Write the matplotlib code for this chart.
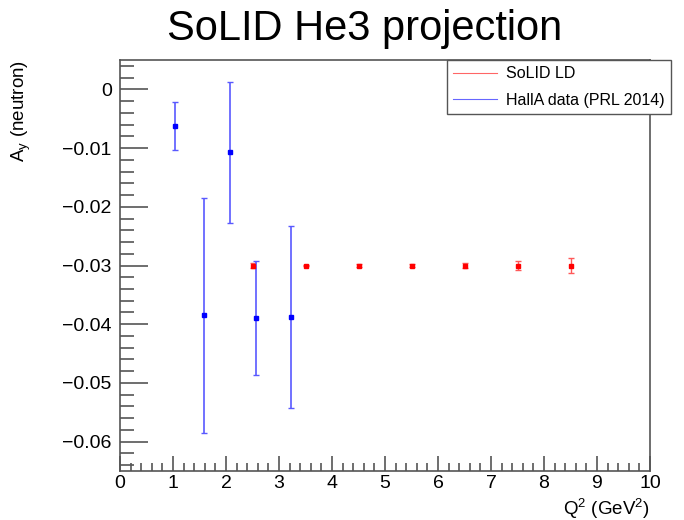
import numpy as np
import matplotlib.pyplot as plt
from matplotlib.ticker import MultipleLocator
from matplotlib.lines import Line2D

plt.rcParams['font.family'] = ['Liberation Sans', 'DejaVu Sans']

# HallA data (PRL 2014)
halla_q2 = [1.04, 1.58, 2.07, 2.56, 3.22]
halla_ay = [-0.0063, -0.0385, -0.0107, -0.0389, -0.0387]
halla_err = [0.0041, 0.0200, 0.0120, 0.0097, 0.0155]

# SoLID LD projection
solid_q2 = [2.5, 3.5, 4.5, 5.5, 6.5, 7.5, 8.5]
solid_ay = [-0.030, -0.030, -0.030, -0.030, -0.030, -0.030, -0.030]
solid_err = [0.0004, 0.0001, 0.0002, 0.0003, 0.0005, 0.0008, 0.0013]

fig = plt.figure(figsize=(6.84, 5.2), dpi=100)
ax = fig.add_axes([120/684, 49/520, 530/684, 411/520])

ax.errorbar(solid_q2, solid_ay, yerr=solid_err, fmt='s', color='red', ms=2.5,
            ecolor=(1.0, 0.35, 0.35), elinewidth=1, capsize=2, capthick=1)
ax.errorbar(halla_q2, halla_ay, yerr=halla_err, fmt='s', color='blue', ms=2.5,
            ecolor=(0.35, 0.35, 1.0), elinewidth=1.2, capsize=2.5, capthick=1)

ax.set_xlim(0, 10)
ax.set_ylim(-0.065, 0.005)
ax.xaxis.set_major_locator(MultipleLocator(1))
ax.xaxis.set_minor_locator(MultipleLocator(0.2))
ax.yaxis.set_major_locator(MultipleLocator(0.01))
ax.yaxis.set_minor_locator(MultipleLocator(0.002))
ax.tick_params(which='both', direction='in', color='#555555', top=False, right=False)
ax.tick_params(axis='y', which='major', length=20, width=1.2, pad=6, labelsize=14)
ax.tick_params(axis='y', which='minor', length=10, width=1.2)
ax.tick_params(axis='x', which='major', length=11, width=1.2, pad=3, labelsize=14)
ax.tick_params(axis='x', which='minor', length=6, width=1.2)
ax.set_yticks([0, -0.01, -0.02, -0.03, -0.04, -0.05, -0.06])
ax.set_yticklabels(['0', '\u22120.01', '\u22120.02', '\u22120.03', '\u22120.04', '\u22120.05', '\u22120.06'])
for s in ax.spines.values():
    s.set_color('#555555')
    s.set_linewidth(1.2)

ax.set_ylabel(r'A$_\mathregular{y}$ (neutron)', fontsize=13.5, loc='top')
ax.yaxis.set_label_coords(-0.165, 1.0)
fig.text(650/684, 1 - 509/520, r'Q$^\mathregular{2}$ (GeV$^\mathregular{2}$)', fontsize=13.5,
         ha='right', va='center')

fig.text(365/684, 1 - 40/520, 'SoLID He3 projection', fontsize=30, ha='center', va='baseline')

handles = [Line2D([], [], color='red', lw=0.8, alpha=0.6),
           Line2D([], [], color='blue', lw=0.8, alpha=0.6)]
leg = fig.legend(handles, ['SoLID LD', 'HallA data (PRL 2014)'], loc='upper left',
                 bbox_to_anchor=(447/684, 1 - 60/520), fontsize=11.5, fancybox=False,
                 edgecolor='#555555', framealpha=1, handlelength=2.7, handletextpad=0.6,
                 borderpad=0.4, labelspacing=0.7, borderaxespad=0)
leg.get_frame().set_linewidth(1.0)

fig.savefig('out.png', dpi=100)
